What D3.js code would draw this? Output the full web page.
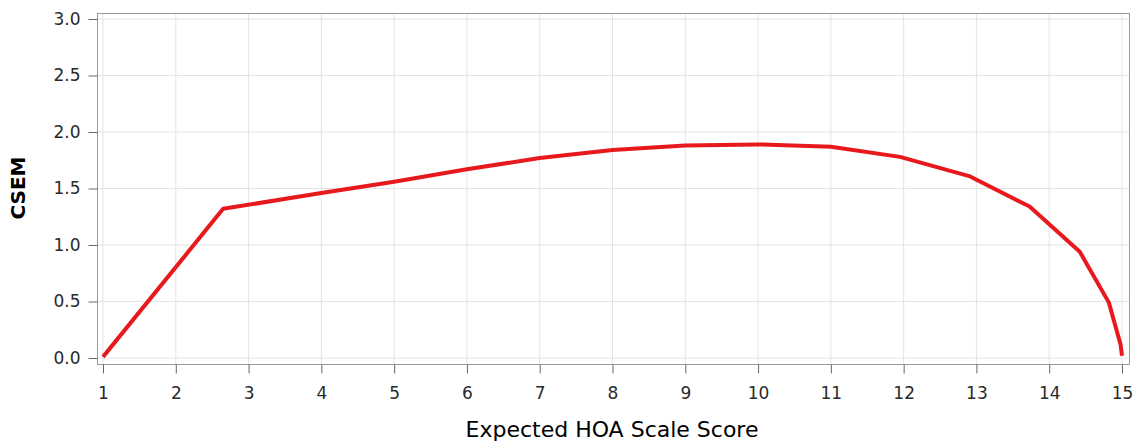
<!DOCTYPE html>
<html>
<head>
<meta charset="utf-8">
<script src="https://cdn.jsdelivr.net/npm/d3@7"></script>
<style>
  body { margin: 0; background: #fff; }
  text { font-family: "DejaVu Sans", sans-serif; }
</style>
</head>
<body>
<div id="chart"></div>
<script>
// DATA
const scoreX = [1, 2.65, 4, 5, 6, 7, 8, 9, 10, 11, 11.95, 12.9, 13.73, 14.42, 14.82, 14.98, 15];
const csemY  = [0.01, 1.32, 1.46, 1.56, 1.67, 1.77, 1.84, 1.88, 1.89, 1.87, 1.78, 1.61, 1.34, 0.94, 0.49, 0.12, 0.02];
const xTicks = d3.range(1, 16);
const yTicks = [0, 0.5, 1, 1.5, 2, 2.5, 3];

const width = 1139, height = 445;
const frame = { left: 97, top: 13, right: 1129, bottom: 364 };

const svg = d3.select("#chart").append("svg")
    .attr("width", width)
    .attr("height", height);

// SCALES
const x = d3.scaleLinear().domain([1, 15]).range([103, 1122]);
const y = d3.scaleLinear().domain([0, 3]).range([358, 19]);

// GRID
svg.append("g")
    .selectAll("line")
    .data(xTicks)
    .enter()
    .append("line")
    .attr("x1", d => x(d)).attr("x2", d => x(d))
    .attr("y1", frame.top).attr("y2", frame.bottom)
    .attr("stroke", "#e4e4e4");

svg.append("g")
    .selectAll("line")
    .data(yTicks)
    .enter()
    .append("line")
    .attr("x1", frame.left).attr("x2", frame.right)
    .attr("y1", d => y(d)).attr("y2", d => y(d))
    .attr("stroke", "#e4e4e4");

// FRAME
svg.append("rect")
    .attr("x", frame.left + 0.5)
    .attr("y", frame.top + 0.5)
    .attr("width", frame.right - frame.left)
    .attr("height", frame.bottom - frame.top)
    .attr("fill", "none")
    .attr("stroke", "#9a9a9a");

// AXES
const xAxis = svg.append("g")
    .attr("transform", `translate(0,${frame.bottom + 0.5})`)
    .call(d3.axisBottom(x).tickValues(xTicks).tickFormat(d3.format("d")).tickSizeOuter(0).tickSize(9).tickPadding(13));

const yAxis = svg.append("g")
    .attr("transform", `translate(${frame.left + 0.5},0)`)
    .call(d3.axisLeft(y).tickValues(yTicks).tickFormat(d3.format(".1f")).tickSizeOuter(0).tickSize(9).tickPadding(8));

[xAxis, yAxis].forEach(g => {
    g.select(".domain").remove();
    g.selectAll(".tick line").attr("stroke", "#666");
    g.selectAll(".tick text")
        .attr("fill", "#2a2a2a")
        .attr("font-size", "17px")
        .style("font-family", "'DejaVu Sans', sans-serif");
});

// LINE
svg.append("path")
    .datum(scoreX.map((d, i) => [d, csemY[i]]))
    .attr("d", d3.line().x(d => x(d[0])).y(d => y(d[1])))
    .attr("fill", "none")
    .attr("stroke", "#e8191d")
    .attr("stroke-width", 4)
    .attr("stroke-linejoin", "round");

// LABELS
svg.append("text")
    .attr("x", 612)
    .attr("y", 437)
    .attr("text-anchor", "middle")
    .attr("font-size", "22px")
    .attr("fill", "#000")
    .text("Expected HOA Scale Score");

svg.append("text")
    .attr("transform", `translate(25,188) rotate(-90)`)
    .attr("text-anchor", "middle")
    .attr("font-size", "20px")
    .attr("font-weight", "bold")
    .attr("fill", "#000")
    .text("CSEM");
</script>
</body>
</html>
